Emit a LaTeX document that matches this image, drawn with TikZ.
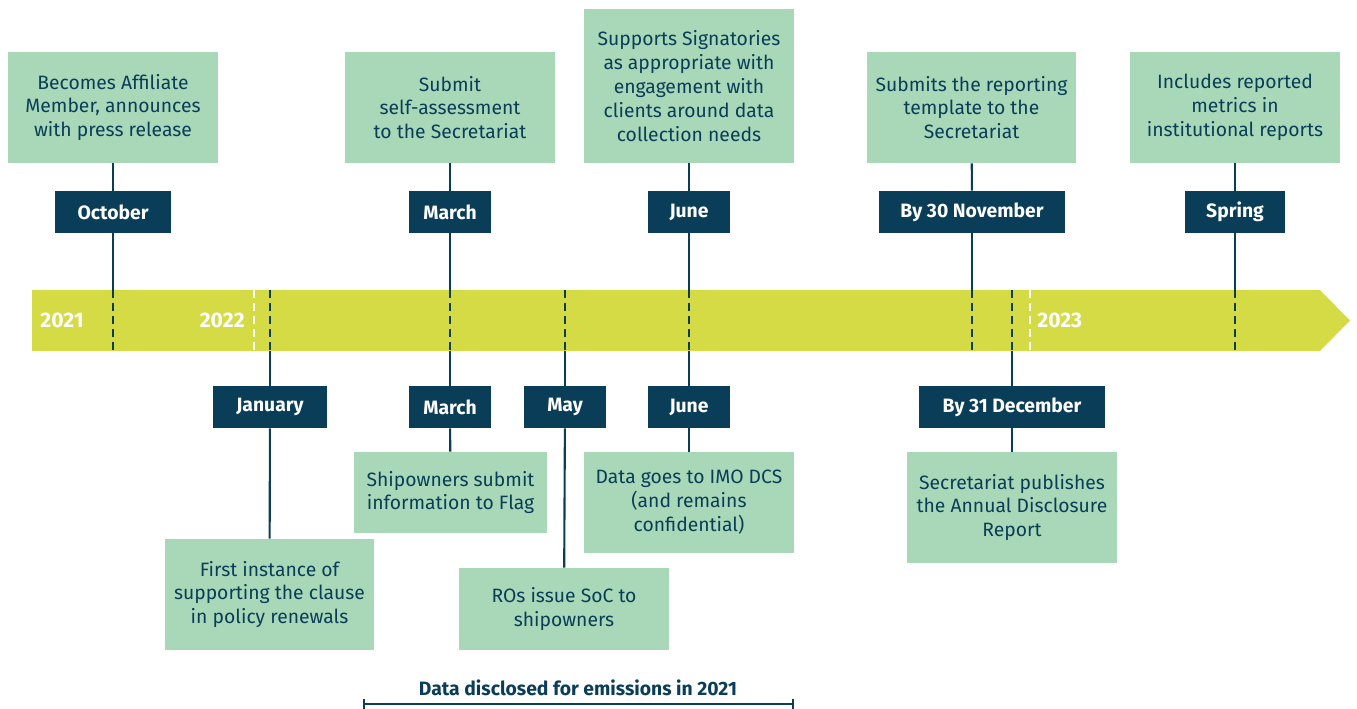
\documentclass[tikz,border=0pt]{standalone}
\usepackage{fontspec}
\setmainfont{Fira Sans}
\usetikzlibrary{arrows.meta,positioning}
\definecolor{navy}{HTML}{0A3D58}
\definecolor{mint}{HTML}{A8D8B8}
\definecolor{lime}{HTML}{D4DB45}
\tikzset{
  evbox/.style={
    rectangle, draw=none, fill=mint, text=navy,
    font=\fontsize{11}{13.6}\selectfont,
    minimum width=4.2cm, minimum height=2.22cm,
    align=center, inner sep=2pt
  },
  datelbl/.style={
    rectangle, draw=none, fill=navy, text=white,
    font=\fontsize{11}{13}\selectfont\bfseries,
    minimum height=0.84cm, inner sep=2pt
  },
  year/.style={text=white, font=\fontsize{12}{14}\selectfont\bfseries, inner sep=0pt},
  link/.style={navy, line width=1.2pt},
  tick/.style={navy, line width=1.2pt, dash pattern=on 0.16cm off 0.1cm},
  yrtick/.style={tick, white}
}

\begin{document}
\begin{tikzpicture}[x=0.02cm, y=-0.02cm]
\useasboundingbox (0,0) rectangle (1357,709);

% ── Timeline bar ──────────────────────────────────────────────────
\fill[lime] (32,290) -- (1320,290) -- (1350,320.5) -- (1320,351) -- (32,351) -- cycle;

\node[year, anchor=west] (y21) at (40,320.5) {2021};
\node[year, anchor=east] (y22) at (245,320.5) {2022};
\node[year, anchor=west] (y23) at (1037,320.5) {2023};

% year boundaries
\draw[yrtick] (254,290) -- (254,351);
\draw[yrtick] (1030,290) -- (1030,351);

% ── Points on the bar ─────────────────────────────────────────────
\foreach \nm/\x in {oc/113, ja/270, mr/450, my/565, jn/689, nv/972, dc/1012, sp/1235}{
  \coordinate (\nm-t) at (\x,290);
  \coordinate (\nm-b) at (\x,351);
  \draw[tick] (\nm-t) -- (\nm-b);
}

% ── Top events ────────────────────────────────────────────────────
\node[evbox] (affil) at (113,107.5)
  {Becomes Affiliate\\Member, announces\\with press release};
\node[datelbl, minimum width=2.32cm] (oct) at (113,212) {October};

\node[evbox] (selfas) at (450,107.5)
  {Submit\\self-assessment\\to the Secretariat};
\node[datelbl, minimum width=1.64cm] (mar1) at (450,212) {March};

\node[evbox, minimum height=3.08cm] (supp) at (689,86)
  {Supports Signatories\\as appropriate with\\engagement with\\clients around data\\collection needs};
\node[datelbl, minimum width=1.64cm] (jun1) at (689,212) {June};

\node[evbox] (templ) at (971.5,107.5)
  {Submits the reporting\\template to the\\Secretariat};
\node[datelbl, minimum width=3.72cm] (nov) at (972,212) {By 30 November};

\node[evbox] (metr) at (1235,107.5)
  {Includes reported\\metrics in\\institutional reports};
\node[datelbl, minimum width=2.0cm] (spr) at (1235,212) {Spring};

% ── Bottom events ─────────────────────────────────────────────────
\node[datelbl, minimum width=2.3cm] (jan) at (270,407) {January};
\node[evbox] (first) at (269.5,594.5)
  {First instance of\\supporting the clause\\in policy renewals};

\node[datelbl, minimum width=1.64cm] (mar2) at (450,407) {March};
\node[evbox, minimum width=3.86cm, minimum height=1.62cm] (flag) at (450.5,492.5)
  {Shipowners submit\\information to Flag};

\node[datelbl, minimum width=1.66cm] (may) at (565,407) {May};
\node[evbox, minimum height=1.64cm] (soc) at (564,609)
  {ROs issue SoC to\\shipowners};

\node[datelbl, minimum width=1.64cm] (jun2) at (689,407) {June};
\node[evbox, minimum height=2.02cm] (imo) at (689,502.5)
  {Data goes to IMO DCS\\(and remains\\confidential)};

\node[datelbl, minimum width=3.72cm] (dec) at (1012,407) {By 31 December};
\node[evbox] (publ) at (1012,507.5)
  {Secretariat publishes\\the Annual Disclosure\\Report};

% ── Connectors ────────────────────────────────────────────────────
\draw[link] (affil) -- (oct);  \draw[link] (oct)  -- (oc-t);
\draw[link] (selfas) -- (mar1); \draw[link] (mar1) -- (mr-t);
\draw[link] (supp) -- (jun1);  \draw[link] (jun1) -- (jn-t);
\draw[link] (templ) -- (nov);  \draw[link] (nov)  -- (nv-t);
\draw[link] (metr) -- (spr);   \draw[link] (spr)  -- (sp-t);

\draw[link] (ja-b) -- (jan);   \draw[link] (jan)  -- (first);
\draw[link] (mr-b) -- (mar2);  \draw[link] (mar2) -- (flag);
\draw[link] (my-b) -- (may);   \draw[link] (may)  -- (soc);
\draw[link] (jn-b) -- (jun2);  \draw[link] (jun2) -- (imo);
\draw[link] (dc-b) -- (dec);   \draw[link] (dec)  -- (publ);

% ── Disclosure span ───────────────────────────────────────────────
\coordinate (spanl) at (363,704);
\coordinate (spanr) at (794,704);
\draw[link, {Bar[width=0.2cm]}-{Bar[width=0.2cm]}] (spanl) -- (spanr);
\node[text=navy, font=\fontsize{11}{13}\selectfont\bfseries] (spanlbl) at (578,688)
  {Data disclosed for emissions in 2021};

\end{tikzpicture}
\end{document}
